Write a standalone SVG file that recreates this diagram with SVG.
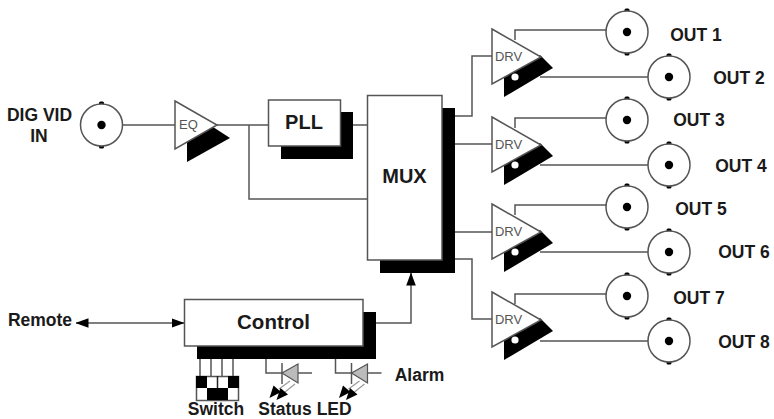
<svg xmlns="http://www.w3.org/2000/svg" xmlns:xlink="http://www.w3.org/1999/xlink" width="774" height="419" viewBox="0 0 774 419">
<style>
.w{fill:none;stroke:#555;stroke-width:1.5}
.b{fill:#fff;stroke:#555;stroke-width:1.5}
.k{fill:#000}
text{font-family:"Liberation Sans",Arial,sans-serif;font-weight:bold;fill:#1a1a1a;text-anchor:middle}
.l{font-size:17.500px}
.s{font-size:13px;font-weight:normal;fill:#555}
</style>
<defs>
<marker id="ah" markerWidth="13" markerHeight="10" refX="12.5" refY="5" orient="auto-start-reverse" markerUnits="userSpaceOnUse"><path d="M0 0.200L13 5L0 9.800Z" fill="#000"/></marker>
<g id="bnc"><rect x="-2.500" y="-23.500" width="5" height="47" rx="1.500" fill="#000"/><circle r="21" fill="#fff" stroke="#555" stroke-width="1.500"/><circle r="4.200" fill="#000"/></g>
<g id="drv"><path class="k" d="M504 97V76L540 55L553 68Z"/><path class="b" d="M492 29L541 57L492 84Z"/><circle cx="515" cy="77" r="3.600" fill="#fff"/><text class="s" x="508.500" y="60.500">DRV</text></g>
<g id="led"><path class="w" d="M0 0V14H46"/><path class="w" d="M16 4V25"/><path d="M32 5V24L16 14Z" fill="#bbb" stroke="#555" stroke-width="1.200"/><path d="M13 30L24 22M19 33L29 25" fill="none" stroke="#999" stroke-width="1.200"/><path class="k" d="M3.500 39L7.500 26.500L15 33ZM10.500 41L14.500 29L22 35.500Z"/></g>
</defs>
<g id="connectors">
<path class="w" d="M122 125H175M217 125H268M249 125V199H367M353 125H367"/>
<path class="w" d="M455 116H472V56H492M455 144H492M455 232H492M455 259H472V319H492"/>
<path class="w" d="M515 40V30H606M540 77H648M515 128V118H606M540 165H648M515 215V205H606M540 252H648M515 304V294H606M540 341H648"/>
<path class="w" d="M376 323H411V273" marker-end="url(#ah)"/>
<path class="w" d="M76 323H184" marker-start="url(#ah)" marker-end="url(#ah)"/>
<path class="w" d="M200 359V376M211 359V376M222 359V376M233 359V376"/>
</g>
<g id="in-bnc"><use xlink:href="#bnc" x="101.500" y="125"/><text class="l" x="39.500" y="121">DIG VID</text><text class="l" x="39" y="142">IN</text></g>
<g id="eq"><path class="k" d="M187 162V142L213 127L230 138Z"/><path class="b" d="M175 101L217 125L175 149Z"/><text class="s" x="188.500" y="129">EQ</text></g>
<g id="pll"><rect class="k" x="281" y="112" width="72" height="47"/><rect class="b" x="268.500" y="100" width="72" height="46"/><text x="304" y="129" font-size="20px">PLL</text></g>
<g id="mux"><rect class="k" x="380" y="108" width="75" height="165"/><rect class="b" x="367.500" y="95.500" width="74.500" height="164.500"/><text x="404.500" y="183" font-size="20px">MUX</text></g>
<g id="control"><rect class="k" x="197" y="312" width="179" height="47"/><rect class="b" x="184.500" y="299.500" width="178.500" height="46.500"/><text x="273.500" y="328.500" font-size="20.500px">Control</text></g>
<g id="drv1"><use xlink:href="#drv"/></g>
<g id="drv2"><use xlink:href="#drv" y="88"/></g>
<g id="drv3"><use xlink:href="#drv" y="175"/></g>
<g id="drv4"><use xlink:href="#drv" y="263"/></g>
<g id="out1"><use xlink:href="#bnc" x="627" y="32"/><text class="l" x="696" y="40.500">OUT 1</text></g>
<g id="out2"><use xlink:href="#bnc" x="669" y="77"/><text class="l" x="739" y="84">OUT 2</text></g>
<g id="out3"><use xlink:href="#bnc" x="627" y="120"/><text class="l" x="699" y="126">OUT 3</text></g>
<g id="out4"><use xlink:href="#bnc" x="669" y="165"/><text class="l" x="741" y="172">OUT 4</text></g>
<g id="out5"><use xlink:href="#bnc" x="627" y="207"/><text class="l" x="701" y="215">OUT 5</text></g>
<g id="out6"><use xlink:href="#bnc" x="669" y="252"/><text class="l" x="744" y="258">OUT 6</text></g>
<g id="out7"><use xlink:href="#bnc" x="627" y="296"/><text class="l" x="699" y="304">OUT 7</text></g>
<g id="out8"><use xlink:href="#bnc" x="669" y="341"/><text class="l" x="744" y="348">OUT 8</text></g>
<g id="remote"><text class="l" x="40" y="326">Remote</text></g>
<g id="switch"><rect class="b" x="196.500" y="376.500" width="42" height="24"/><path class="k" d="M196 376H207V388H228V376H239V388H228V400H207V388H196Z"/><path class="w" d="M217.500 376V388" style="stroke:#222"/><text class="l" x="216" y="415">Switch</text></g>
<g id="status-led"><use xlink:href="#led" x="266" y="359"/><text class="l" x="305" y="415">Status LED</text></g>
<g id="alarm-led"><use xlink:href="#led" x="335.500" y="359"/><text class="l" x="419.500" y="380.500">Alarm</text></g>
</svg>
